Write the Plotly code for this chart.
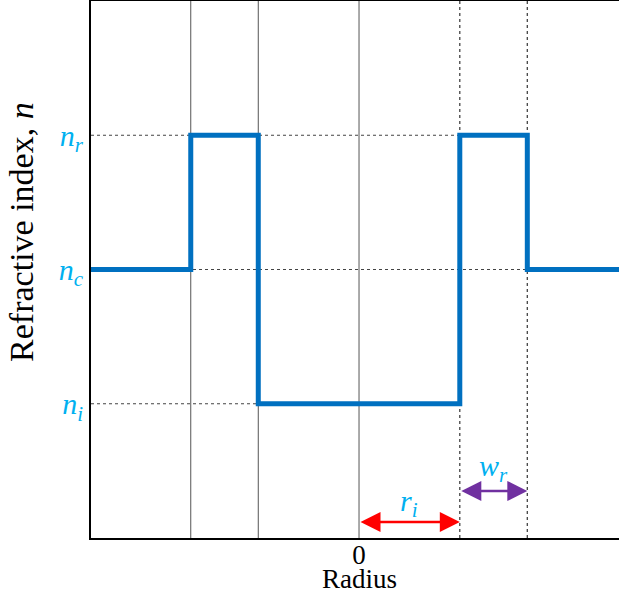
import plotly.graph_objects as go

# Data
r_i = 1.0          # inner radius
w_r = 0.67         # ring width
x_range = [-2.66, 2.58]
y_range = [0.0, 4.0]

profile_x = [-2.66, -1.67, -1.67, -1.0, -1.0, 1.0, 1.0, 1.67, 1.67, 2.58]
profile_y = [2.0, 2.0, 3.0, 3.0, 1.0, 1.0, 3.0, 3.0, 2.0, 2.0]

solid_lines_x = [-1.67, -1.0, 0.0]
dotted_lines_x = [1.0, 1.67]
h_lines = [(3.0, 1.0), (2.0, 1.67), (1.0, 1.0)]  # (level, right end)

ytick_vals = [1.0, 2.0, 3.0]
ytick_text = ["<i>n</i><sub><i>i</i></sub>", "<i>n</i><sub><i>c</i></sub>", "<i>n</i><sub><i>r</i></sub>"]

SERIF = "Liberation Serif, Times New Roman, serif"
CYAN = "#00B0F0"

fig = go.Figure()

shapes = []
for xv in solid_lines_x:
    shapes.append(dict(type="line", xref="x", yref="y", x0=xv, x1=xv, y0=y_range[0], y1=y_range[1],
                       line=dict(color="#555555", width=1), layer="below"))
for xv in dotted_lines_x:
    shapes.append(dict(type="line", xref="x", yref="y", x0=xv, x1=xv, y0=y_range[0], y1=y_range[1],
                       line=dict(color="#444444", width=1.3, dash="dot"), layer="below"))
for lvl, xe in h_lines:
    shapes.append(dict(type="line", xref="x", yref="y", x0=x_range[0], x1=xe, y0=lvl, y1=lvl,
                       line=dict(color="#444444", width=1.2, dash="dot"), layer="below"))

fig.add_trace(go.Scatter(x=profile_x, y=profile_y, mode="lines",
                         line=dict(color="#0070C0", width=5), hoverinfo="skip", showlegend=False))

annotations = [
    dict(x=r_i, y=0.12, ax=0.0, ay=0.12, xref="x", yref="y", axref="x", ayref="y",
         text="", showarrow=True, arrowside="end+start", arrowhead=2, arrowsize=1.6,
         arrowwidth=2.5, arrowcolor="#FF0000"),
    dict(x=r_i + w_r, y=0.35, ax=r_i, ay=0.35, xref="x", yref="y", axref="x", ayref="y",
         text="", showarrow=True, arrowside="end+start", arrowhead=2, arrowsize=1.6,
         arrowwidth=2.5, arrowcolor="#7030A0"),
    dict(x=r_i / 2, y=0.26, xref="x", yref="y", showarrow=False,
         text="<i>r</i><sub><i>i</i></sub>", font=dict(family=SERIF, size=30, color=CYAN)),
    dict(x=r_i + w_r / 2, y=0.52, xref="x", yref="y", showarrow=False,
         text="<i>w</i><sub><i>r</i></sub>", font=dict(family=SERIF, size=30, color=CYAN)),
    # axis titles
    dict(x=-0.1307, y=0.57, xref="paper", yref="paper", showarrow=False, textangle=-90,
         xanchor="center", yanchor="middle",
         text="Refractive index, <i>n</i>", font=dict(family=SERIF, size=34, color="black")),
    dict(x=0.0, y=-0.077, xref="x", yref="paper", showarrow=False,
         xanchor="center", yanchor="middle",
         text="Radius", font=dict(family=SERIF, size=27, color="black")),
]

fig.update_layout(
    width=619, height=598,
    margin=dict(l=91, r=0, t=1, b=60),
    plot_bgcolor="white", paper_bgcolor="white",
    shapes=shapes, annotations=annotations,
    showlegend=False,
    xaxis=dict(range=x_range, showgrid=False, zeroline=False, showline=True, linecolor="black",
               linewidth=2, mirror=True, tickmode="array", tickvals=[0], ticktext=["0"],
               ticks="", ticklabelstandoff=-8, tickfont=dict(family=SERIF, size=27, color="black")),
    yaxis=dict(range=y_range, showgrid=False, zeroline=False, showline=True, linecolor="black",
               linewidth=2, tickmode="array", tickvals=ytick_vals, ticktext=ytick_text,
               ticks="", tickfont=dict(family=SERIF, size=30, color=CYAN)),
)

fig.write_html("out.html")
